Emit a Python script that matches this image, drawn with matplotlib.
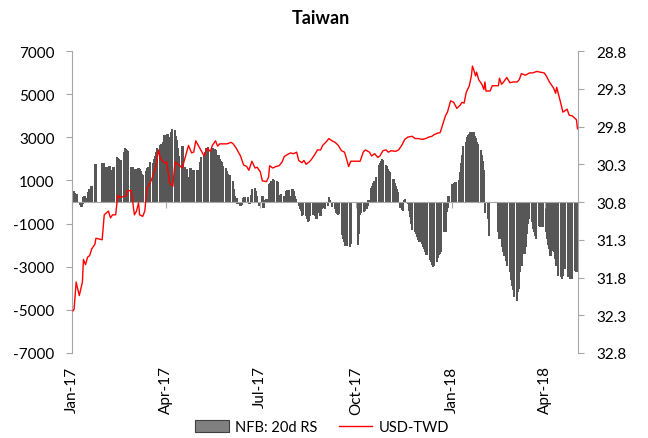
import numpy as np
import pandas as pd
import matplotlib
matplotlib.use('Agg')
import matplotlib.pyplot as plt
import matplotlib.dates as mdates
from matplotlib.patches import Patch
from matplotlib.lines import Line2D
from matplotlib.ticker import FormatStrFormatter

nan = np.nan

# NFB: 20d RS, business days (Mon..Fri per row) starting 2 Jan 2017; nan = no print
nfb_weeks = [
    [500, 520, 400, 350, 350],
    [-150, -250, -100, 250, 270],
    [170, 450, 600, 750, 760],
    [1750, 1760, nan, nan, nan],
    [1800, 1800, 1800, 1600, 1600],
    [1650, 1500, 1450, 1450, 1600],
    [2100, 2050, 2000, 1800, 1950],
    [2330, 2490, 2450, 2400, 2380],
    [1600, 1600, 1500, 1350, 1550],
    [1560, 1530, 1450, 1300, 1250],
    [1450, 1560, 1600, 1600, 1840],
    [1800, 2000, 2150, 2330, 2490],
    [2640, 2690, 2700, 2770, 3100],
    [3150, 3000, 2770, 3260, 3380],
    [3350, 3070, 2890, 2500, 2150],
    [2600, 2580, 1600, 1140, 1530],
    [1140, 1560, 1220, 1500, 1500],
    [1500, 1500, 1500, 1840, 2070],
    [2150, 2300, 2490, 2380, 2530],
    [2300, 2490, 2430, 2460, 2430],
    [2180, 2000, 1920, 1840, 1680],
    [1560, 1450, 1300, 1250, 1250],
    [990, 600, 260, 170, -90],
    [-200, -150, -50, 170, 220],
    [220, -90, -90, 320, 600],
    [630, 525, 260, -50, -170],
    [260, -290, 0, 100, 140],
    [830, 880, 990, 1070, 1040],
    [990, 910, 170, 310, 370],
    [290, 140, 525, 570, 570],
    [260, 600, 525, 300, 140],
    [-170, -340, -420, -650, -620],
    [-660, -800, -940, -900, -660],
    [-600, -400, -650, -800, -500],
    [-630, -330, -290, -250, -330],
    [-170, 220, 110, -20, -250],
    [-330, -490, -560, -600, -560],
    [-1530, -1720, -1870, -2020, -2050],
    [-2100, -1950, nan, nan, nan],
    [nan, -2000, -1500, -600, -500],
    [-450, -400, -330, -200, 100],
    [650, 760, 870, 980, 1150],
    [1700, 1800, 1900, 1990, 1950],
    [1700, 1650, 1550, 1450, 1380],
    [1070, 900, 750, 600, 450],
    [-300, -350, -400, 100, 140],
    [-100, -400, -700, -1000, -1300],
    [-1400, -1500, -1600, -1750, -1870],
    [-1950, -2100, -2200, -2330, -2450],
    [-2700, -2800, -2900, -3000, -2950],
    [-2800, -2600, -2450, -2400, -2300],
    [-1400, -1400, -480, -300, 300],
    [nan, 850, 900, 950, 950],
    [1000, 1400, 1800, 2200, 2600],
    [2800, 3000, 3100, 3150, 3230],
    [3230, 3070, 2950, 2800, 2700],
    [2400, 2200, 1900, 1500, -500],
    [-800, -1560, nan, nan, nan],
    [nan, nan, nan, -1400, -1700],
    [-2100, -2330, -2500, -2720, -2950],
    [-3260, -3600, -3880, -4100, -4420],
    [-4570, -4190, -4030, -3260, -2950],
    [-2400, -2100, -1500, -1000, -800],
    [-940, -1250, -1400, -1560, -1720],
    [-1100, -1170, -1170, -1170, -1170],
    [-1400, -1720, -2000, -2180, -2490],
    [-2250, -2330, -2640, -2950, -3410],
    [-3490, -3570, -3410, -2950, -3100],
    [-3490, -3490, -3570, -3490, -3570],
    [-3180, -3260, -3200],
]

usd_dates = [
    '2017-01-02', '2017-01-03', '2017-01-05', '2017-01-08', '2017-01-11', '2017-01-12',
    '2017-01-14', '2017-01-16', '2017-01-18', '2017-01-20', '2017-01-23', '2017-01-24',
    '2017-01-30', '2017-02-01', '2017-02-05', '2017-02-07', '2017-02-09', '2017-02-12',
    '2017-02-14', '2017-02-16', '2017-02-22', '2017-02-23', '2017-02-27', '2017-03-02',
    '2017-03-04', '2017-03-06', '2017-03-07', '2017-03-10', '2017-03-12', '2017-03-14',
    '2017-03-18', '2017-03-21', '2017-03-23', '2017-03-25', '2017-03-27', '2017-03-31',
    '2017-04-02', '2017-04-05', '2017-04-08', '2017-04-10', '2017-04-13', '2017-04-17',
    '2017-04-19', '2017-04-23', '2017-04-26', '2017-04-28', '2017-04-30', '2017-05-04',
    '2017-05-08', '2017-05-11', '2017-05-14', '2017-05-16', '2017-05-19', '2017-05-21',
    '2017-05-23', '2017-05-30', '2017-06-03', '2017-06-05', '2017-06-08', '2017-06-12',
    '2017-06-15', '2017-06-18', '2017-06-20', '2017-06-23', '2017-06-26', '2017-06-28',
    '2017-07-01', '2017-07-03', '2017-07-07', '2017-07-09', '2017-07-10', '2017-07-13',
    '2017-07-16', '2017-07-19', '2017-07-22', '2017-07-24', '2017-07-26', '2017-07-30',
    '2017-08-02', '2017-08-05', '2017-08-07', '2017-08-10', '2017-08-12', '2017-08-14',
    '2017-08-17', '2017-08-19', '2017-08-22', '2017-08-25', '2017-08-28', '2017-08-30',
    '2017-09-02', '2017-09-05', '2017-09-08', '2017-09-11', '2017-09-14', '2017-09-17',
    '2017-09-20', '2017-09-22', '2017-09-24', '2017-09-26', '2017-10-05', '2017-10-08',
    '2017-10-10', '2017-10-14', '2017-10-16', '2017-10-19', '2017-10-22', '2017-10-24',
    '2017-10-27', '2017-10-30', '2017-11-01', '2017-11-04', '2017-11-08', '2017-11-11',
    '2017-11-14', '2017-11-17', '2017-11-20', '2017-11-24', '2017-11-27', '2017-11-30',
    '2017-12-04', '2017-12-07', '2017-12-10', '2017-12-13', '2017-12-15', '2017-12-18',
    '2017-12-21', '2017-12-23', '2017-12-24', '2017-12-26', '2017-12-28', '2017-12-31',
    '2018-01-03', '2018-01-06', '2018-01-09', '2018-01-11', '2018-01-13', '2018-01-15',
    '2018-01-18', '2018-01-20', '2018-01-21', '2018-01-22', '2018-01-24', '2018-01-25',
    '2018-01-27', '2018-01-30', '2018-02-01', '2018-02-02', '2018-02-03', '2018-02-07',
    '2018-02-09', '2018-02-15', '2018-02-16', '2018-02-18', '2018-02-20', '2018-02-23',
    '2018-02-26', '2018-03-01', '2018-03-05', '2018-03-07', '2018-03-09', '2018-03-13',
    '2018-03-17', '2018-03-20', '2018-03-24', '2018-03-27', '2018-03-31', '2018-04-02',
    '2018-04-05', '2018-04-09', '2018-04-11', '2018-04-12', '2018-04-15', '2018-04-18',
    '2018-04-20', '2018-04-22', '2018-04-24', '2018-04-27', '2018-05-01', '2018-05-02',
]
usd_twd = [
    32.24, 32.22, 31.86, 32.04, 31.86, 31.56, 31.63, 31.53, 31.51, 31.42, 31.36, 31.28,
    31.30, 30.97, 30.92, 31.01, 30.97, 30.97, 30.71, 30.74, 30.72, 30.65, 30.65, 30.97,
    30.92, 30.81, 30.97, 30.99, 30.92, 30.62, 30.52, 30.41, 30.31, 30.11, 30.23, 30.28,
    30.27, 30.55, 30.59, 30.27, 30.30, 30.35, 30.25, 30.05, 30.15, 30.14, 29.99, 30.09,
    30.19, 30.09, 30.13, 30.05, 29.99, 30.06, 30.03, 30.03, 30.01, 30.03, 30.09, 30.19,
    30.31, 30.33, 30.38, 30.26, 30.35, 30.34, 30.40, 30.52, 30.53, 30.47, 30.32, 30.35,
    30.33, 30.32, 30.27, 30.20, 30.18, 30.15, 30.16, 30.14, 30.25, 30.28, 30.25, 30.30,
    30.27, 30.24, 30.18, 30.11, 30.11, 30.05, 30.01, 29.96, 29.99, 30.01, 30.05, 30.12,
    30.14, 30.23, 30.33, 30.26, 30.26, 30.14, 30.11, 30.14, 30.19, 30.16, 30.21, 30.19,
    30.12, 30.11, 30.14, 30.12, 30.13, 30.11, 30.05, 29.97, 29.94, 29.93, 29.96, 29.96,
    29.97, 29.96, 29.94, 29.93, 29.91, 29.89, 29.88, 29.79, 29.74, 29.66, 29.61, 29.46,
    29.48, 29.56, 29.52, 29.48, 29.49, 29.35, 29.26, 29.13, 29.00, 29.04, 29.13, 29.08,
    29.18, 29.24, 29.31, 29.21, 29.33, 29.33, 29.26, 29.26, 29.16, 29.24, 29.21, 29.15,
    29.22, 29.21, 29.21, 29.18, 29.10, 29.12, 29.09, 29.09, 29.07, 29.08, 29.09, 29.13,
    29.21, 29.29, 29.36, 29.28, 29.44, 29.61, 29.59, 29.57, 29.65, 29.66, 29.71, 29.83,
]

left_ticks = list(range(-7000, 7001, 2000))
right_ticks = [28.8, 29.3, 29.8, 30.3, 30.8, 31.3, 31.8, 32.3, 32.8]
quarter_ticks = ['2017-01-01', '2017-04-01', '2017-07-01', '2017-10-01', '2018-01-01', '2018-04-01']

GREY = '#a6a6a6'
plt.rcParams['font.family'] = ['Lato', 'DejaVu Sans']
plt.rcParams['axes.unicode_minus'] = False


def main():
    nfb = np.array([v for week in nfb_weeks for v in week], dtype=float)
    nfb_dates = pd.bdate_range('2017-01-02', periods=len(nfb))
    usd_x = pd.to_datetime(usd_dates)

    fig = plt.figure(figsize=(6.48, 4.39), dpi=100)
    ax = fig.add_axes([72 / 648, 1 - 354 / 439, 506 / 648, 302 / 439])
    ax.bar(nfb_dates, nfb, width=2.3, color='#575757', linewidth=0)

    x0 = pd.Timestamp('2017-01-01')
    x1 = x0 + pd.Timedelta(days=486.5)
    ax.set_xlim(x0, x1)
    ax.set_ylim(-7000, 7000)
    ax.set_yticks(left_ticks)

    for s in ['top', 'right']:
        ax.spines[s].set_visible(False)
    ax.spines['left'].set_color(GREY)
    ax.spines['bottom'].set_color(GREY)
    ax.spines['bottom'].set_position(('data', 0))
    ax.tick_params(axis='y', direction='out', length=4, color=GREY, labelsize=11, pad=8.5)
    qt = mdates.date2num(pd.to_datetime(quarter_ticks))
    ax.set_xticks(qt)
    ax.tick_params(axis='x', direction='out', length=4, color=GREY, labelbottom=False)

    sec = ax.secondary_xaxis(0)
    sec.set_xticks(qt)
    sec.xaxis.set_major_formatter(mdates.DateFormatter('%b-%y'))
    sec.tick_params(length=0, labelsize=11, labelrotation=90, pad=9)
    sec.spines['bottom'].set_visible(False)

    ax2 = ax.twinx()
    ax2.plot(usd_x, usd_twd, color='#ff0000', lw=1.0)
    ax2.set_ylim(32.8, 28.8)
    ax2.set_yticks(right_ticks)
    ax2.yaxis.set_major_formatter(FormatStrFormatter('%.1f'))
    for s in ['top', 'left', 'bottom']:
        ax2.spines[s].set_visible(False)
    ax2.spines['right'].set_color(GREY)
    ax2.tick_params(axis='y', direction='out', length=4, color=GREY, labelsize=11, pad=9.5)

    fig.text(321 / 648, 1 - 19 / 439, 'Taiwan', ha='center', va='center', fontsize=13, fontweight='bold')

    handles = [Patch(facecolor='#808080', edgecolor='#404040', linewidth=0.8),
               Line2D([], [], color='#ff0000', lw=1.0)]
    fig.legend(handles, ['NFB: 20d RS', 'USD-TWD'], loc='center', bbox_to_anchor=(0.497, 1 - 428 / 439),
               ncol=2, frameon=False, fontsize=10.5, handlelength=2.3, handleheight=0.8,
               columnspacing=1.5, handletextpad=0.4)

    fig.savefig('out.png', dpi=100)


if __name__ == '__main__':
    main()
